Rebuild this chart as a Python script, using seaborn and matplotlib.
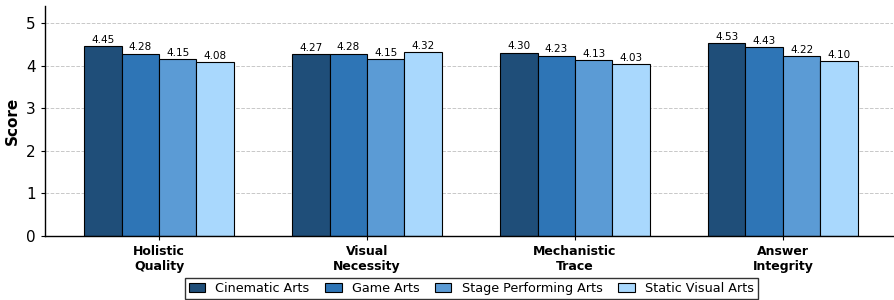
import matplotlib
matplotlib.use("Agg")
import matplotlib.pyplot as plt
import pandas as pd
import seaborn as sns

dimensions = ["Holistic\nQuality", "Visual\nNecessity", "Mechanistic\nTrace", "Answer\nIntegrity"]
domains = ["Cinematic Arts", "Game Arts", "Stage Performing Arts", "Static Visual Arts"]
cinematic = [4.45, 4.27, 4.30, 4.53]
game = [4.28, 4.28, 4.23, 4.43]
stage = [4.15, 4.15, 4.13, 4.22]
static = [4.08, 4.32, 4.03, 4.10]
colors = ["#1f4e79", "#2e75b6", "#5b9bd5", "#a9d8fd"]

rows = []
for name, vals in zip(domains, [cinematic, game, stage, static]):
    for dim, v in zip(dimensions, vals):
        rows.append({"dimension": dim, "domain": name, "score": v})
df = pd.DataFrame(rows)

sns.set_style("white")
plt.rcParams["font.family"] = ["DejaVu Sans"]
plt.rcParams["text.color"] = "black"
plt.rcParams["axes.labelcolor"] = "black"
plt.rcParams["xtick.color"] = "black"
plt.rcParams["ytick.color"] = "black"

fig, ax = plt.subplots(figsize=(8.94, 3.0), dpi=100)
sns.barplot(
    data=df, x="dimension", y="score", hue="domain",
    order=dimensions, hue_order=domains, palette=colors, saturation=1,
    width=0.72, edgecolor="black", linewidth=0.8, errorbar=None, ax=ax,
)

for cont in ax.containers:
    ax.bar_label(cont, fmt="%.2f", padding=1, fontsize=7.5)

ax.set_ylim(0, 5.4)
ax.set_xlim(-0.55, 3.53)
ax.set_yticks([0, 1, 2, 3, 4, 5])
ax.yaxis.grid(True, linestyle="--", color="#c8c8c8", linewidth=0.7)
ax.set_axisbelow(True)
ax.set_xlabel("")
ax.set_ylabel("Score", fontsize=11, fontweight="bold")
ax.tick_params(axis="y", labelsize=11, left=True, length=3)
ax.tick_params(axis="x", bottom=True, length=3)
for lbl in ax.get_xticklabels():
    lbl.set_fontweight("bold")
    lbl.set_fontsize(9)
sns.despine(ax=ax)
for s in ["left", "bottom"]:
    ax.spines[s].set_color("black")
    ax.spines[s].set_linewidth(1.0)

handles, labels = ax.get_legend_handles_labels()
ax.get_legend().remove()
fig.legend(
    handles, labels, loc="lower center", bbox_to_anchor=(0.527, 0.0), ncol=4,
    frameon=True, fancybox=False, edgecolor="black", fontsize=9.2,
    handlelength=1.3, columnspacing=1.2, borderpad=0.3, borderaxespad=0.1,
)

plt.subplots_adjust(left=0.05, right=0.999, top=0.98, bottom=0.213)
fig.savefig("out.png", dpi=100)
